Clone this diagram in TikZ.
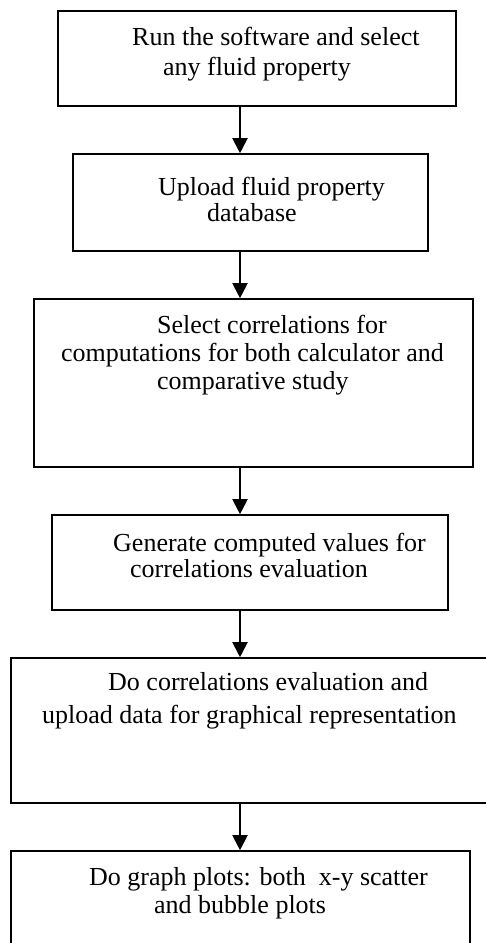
\documentclass[tikz,border=0pt]{standalone}
\usepackage{fontspec}
\setmainfont{Liberation Serif}
\usetikzlibrary{arrows.meta}
\begin{document}
\begin{tikzpicture}[x=1pt,y=-1pt,
  box/.style={draw=black,line width=1.6pt,rectangle,inner sep=0pt},
  txt/.style={inner sep=0pt,anchor=base west,font=\fontsize{26}{28}\selectfont},
  arr/.style={line width=2pt,-{Triangle[width=15pt,length=15pt]}}]
\useasboundingbox (0,0) rectangle (486,943);
\begin{scope}
\clip (0,0) rectangle (486,943);
\node[box,minimum width=398pt,minimum height=95pt] (b1) at (257,58.5) {};
\node[box,minimum width=355pt,minimum height=97pt] (b2) at (250.5,202.5) {};
\node[box,minimum width=439pt,minimum height=168pt] (b3) at (253.5,383) {};
\node[box,minimum width=396pt,minimum height=95pt] (b4) at (250,562.5) {};
\node[box,minimum width=481pt,minimum height=145pt] (b5) at (251.5,730.5) {};
\node[box,minimum width=459pt,minimum height=109pt] (b6) at (240.5,905.5) {};
\end{scope}
\node[txt] (t1a) at (132,45) {Run the software and select};
\node[txt] (t1b) at (163,75) {any fluid property};
\node[txt] (t2a) at (158,195) {Upload fluid property};
\node[txt] (t2b) at (207,221) {database};
\node[txt] (t3a) at (157,333) {Select correlations for};
\node[txt] (t3b) at (61,361) {computations for both calculator and};
\node[txt] (t3c) at (157,389) {comparative study};
\node[txt] (t4a) at (113,551) {Generate computed values for};
\node[txt] (t4b) at (130,577) {correlations evaluation};
\node[txt] (t5a) at (108,690) {Do correlations evaluation and};
\node[txt] (t5b) at (42,723) {upload data for graphical representation};
\node[txt] (t6a) at (89,885) {Do graph plots: both\ \ x-y scatter};
\node[txt] (t6b) at (154,913) {and bubble plots};
\coordinate (ax) at (240,0);
\draw[arr] (b1.south -| ax) -- (b2.north -| ax);
\draw[arr] (b2.south -| ax) -- (b3.north -| ax);
\draw[arr] (b3.south -| ax) -- (b4.north -| ax);
\draw[arr] (b4.south -| ax) -- (b5.north -| ax);
\draw[arr] (b5.south -| ax) -- (b6.north -| ax);
\end{tikzpicture}
\end{document}
